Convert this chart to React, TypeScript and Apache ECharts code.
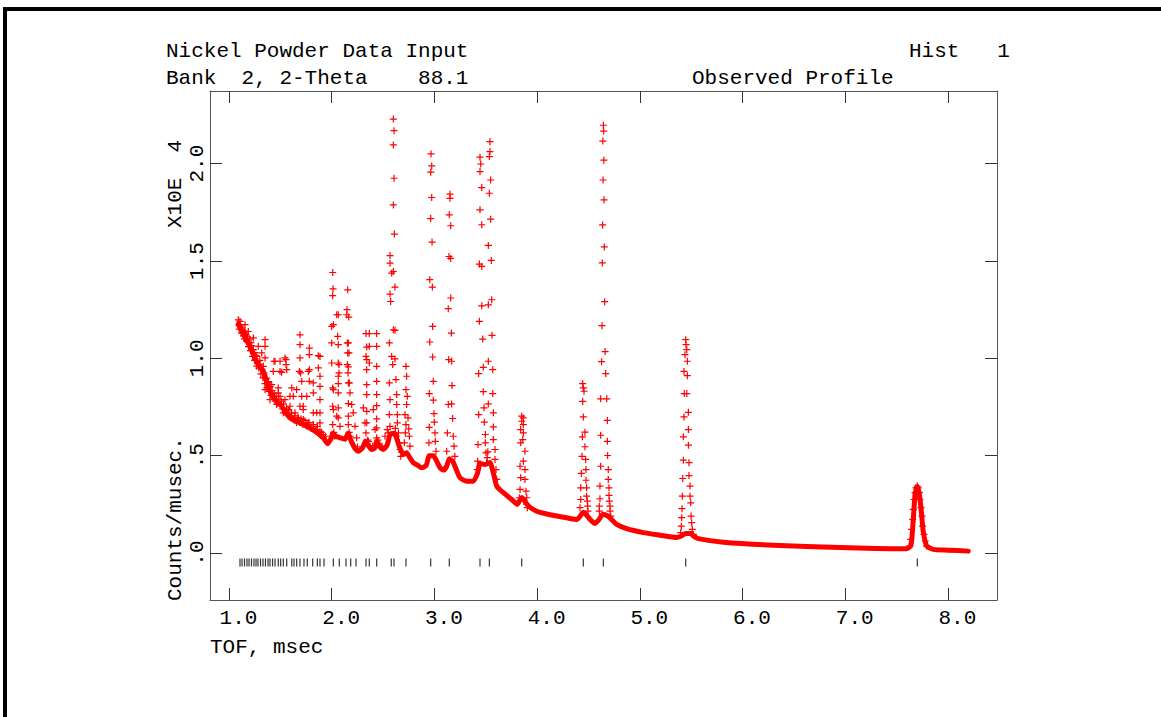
import React, { useEffect, useRef } from "react";
import * as echarts from "echarts";

// ---------- axis ticks ----------
const xTickValues = [1, 2, 3, 4, 5, 6, 7, 8];
const yTickValues = [0, 0.5, 1, 1.5, 2];
const yTickLabels = [".0", ".5", "1.0", "1.5", "2.0"];

// ---------- reflection positions (TOF, msec) ----------
const reflectionTof = [
  1.107, 1.127, 1.151, 1.175, 1.195, 1.219, 1.243, 1.263, 1.282, 1.307, 1.331, 1.355, 1.38, 1.399, 1.424,
  1.448, 1.48, 1.503, 1.529, 1.562, 1.611, 1.633, 1.659, 1.691, 1.73, 1.762, 1.815, 1.86, 1.886, 1.925,
  2.016, 2.074, 2.139, 2.185, 2.237, 2.334, 2.366, 2.438, 2.58, 2.607, 2.723, 2.964, 3.145, 3.444, 3.535,
  3.85, 4.45, 4.645, 5.447, 7.702,
];
const reflectionLevel = -0.048;

// ---------- observed profile: dense lower trace (TOF, counts x1e4) ----------
const bandTof = [
  1.091, 1.139, 1.204, 1.27, 1.334, 1.383, 1.448, 1.513, 1.594, 1.659, 1.757, 1.837, 1.918, 1.961, 1.995,
  2.01, 2.04, 2.097, 2.13, 2.16, 2.19, 2.23, 2.259, 2.3, 2.33, 2.36, 2.389, 2.42, 2.44, 2.47, 2.502, 2.54,
  2.57, 2.61, 2.66, 2.697, 2.73, 2.76, 2.795, 2.84, 2.876, 2.92, 2.95, 2.99, 3.022, 3.055, 3.087, 3.12,
  3.145, 3.18, 3.2, 3.249, 3.314, 3.379, 3.42, 3.444, 3.493, 3.54, 3.574, 3.607, 3.671, 3.753, 3.807, 3.83,
  3.85, 3.89, 3.915, 3.996, 4.1, 4.191, 4.3, 4.386, 4.42, 4.45, 4.49, 4.515, 4.564, 4.606, 4.64, 4.69,
  4.726, 4.775, 4.872, 5.034, 5.197, 5.359, 5.4, 5.447, 5.5, 5.521, 5.57, 5.813, 6.3, 6.949, 7.3, 7.599,
  7.64, 7.66, 7.68, 7.7, 7.72, 7.74, 7.76, 7.794, 7.858, 8.0, 8.199,
];
const bandCounts = [
  1.175, 1.125, 1.06, 0.98, 0.933, 0.85, 0.79, 0.754, 0.694, 0.677, 0.651, 0.626, 0.592, 0.562, 0.59,
  0.615, 0.6, 0.59, 0.585, 0.615, 0.575, 0.535, 0.523, 0.54, 0.575, 0.55, 0.532, 0.54, 0.575, 0.545, 0.532, 0.555,
  0.61, 0.615, 0.545, 0.506, 0.515, 0.49, 0.464, 0.45, 0.438, 0.45, 0.5, 0.5, 0.472, 0.438, 0.426, 0.446,
  0.485, 0.47, 0.446, 0.387, 0.369, 0.369, 0.41, 0.46, 0.455, 0.465, 0.412, 0.344, 0.31, 0.275, 0.25, 0.27,
  0.285, 0.26, 0.241, 0.215, 0.2, 0.19, 0.18, 0.172, 0.19, 0.21, 0.19, 0.173, 0.152, 0.175, 0.2, 0.19,
  0.172, 0.147, 0.125, 0.105, 0.092, 0.08, 0.086, 0.1, 0.1, 0.088, 0.074, 0.056, 0.04, 0.028, 0.024, 0.022,
  0.04, 0.15, 0.3, 0.34, 0.31, 0.22, 0.11, 0.036, 0.019, 0.015, 0.01,
];

// ---------- observed profile: individual points ----------
const obsLowDense: [number, number][] = [
  [1.095, 1.17], [1.1, 1.15], [1.11, 1.17], [1.12, 1.13], [1.13, 1.15], [1.14, 1.115], [1.15, 1.1],
  [1.16, 1.13], [1.17, 1.09], [1.18, 1.11], [1.19, 1.06], [1.2, 1.08], [1.21, 1.04], [1.22, 1.065],
  [1.23, 1.01], [1.24, 1.03], [1.25, 0.99], [1.26, 1.015], [1.27, 0.96], [1.28, 0.985], [1.29, 0.95],
  [1.3, 0.97], [1.31, 0.92], [1.32, 0.945], [1.33, 0.9], [1.34, 0.925], [1.35, 0.87], [1.36, 0.895],
  [1.37, 0.85], [1.38, 0.875], [1.39, 0.83], [1.4, 0.855], [1.41, 0.81], [1.42, 0.835], [1.43, 0.8],
  [1.44, 0.82], [1.45, 0.78], [1.46, 0.805], [1.47, 0.77], [1.48, 0.79], [1.5, 0.76], [1.51, 0.78],
  [1.52, 0.74], [1.53, 0.765], [1.55, 0.72], [1.56, 0.745], [1.57, 0.71], [1.58, 0.73], [1.6, 0.7],
  [1.61, 0.72], [1.62, 0.69], [1.64, 0.705], [1.65, 0.68], [1.67, 0.695], [1.69, 0.67], [1.7, 0.69],
  [1.72, 0.66], [1.74, 0.68], [1.76, 0.66], [1.78, 0.67], [1.8, 0.64], [1.82, 0.66], [1.84, 0.63],
  [1.86, 0.65], [1.88, 0.61], [1.9, 0.62], [1.92, 0.59], [1.94, 0.6],
];

const obsLowTof: [number, number][] = [
  [1.091, 1.198], [1.107, 1.19], [1.12, 1.16], [1.156, 1.173], [1.15, 1.14], [1.17, 1.12], [1.188, 1.138],
  [1.2, 1.1], [1.215, 1.08], [1.237, 1.105], [1.237, 1.045], [1.25, 1.03], [1.27, 1.01], [1.285, 1.062],
  [1.3, 0.99], [1.318, 1.028], [1.334, 0.959], [1.351, 1.096], [1.351, 1.062], [1.351, 1.002], [1.351, 0.839],
  [1.367, 0.899], [1.383, 0.88], [1.399, 0.788], [1.416, 0.865], [1.431, 0.933], [1.438, 0.985], [1.448, 0.985],
  [1.464, 0.763], [1.48, 0.848], [1.48, 0.823], [1.497, 0.985], [1.497, 0.933], [1.497, 0.805], [1.513, 0.928],
  [1.529, 0.72], [1.545, 1.002], [1.545, 0.788], [1.555, 0.968], [1.555, 0.993], [1.562, 0.942], [1.577, 0.737],
  [1.594, 0.805], [1.594, 0.754], [1.594, 0.703], [1.611, 0.848], [1.626, 0.805], [1.643, 0.72], [1.659, 0.839],
  [1.659, 0.669], [1.675, 0.694], [1.685, 0.933], [1.691, 1.121], [1.691, 1.07], [1.691, 1.002], [1.691, 0.754],
  [1.698, 0.925], [1.708, 0.882], [1.708, 0.805], [1.723, 0.754], [1.723, 0.737], [1.723, 0.686], [1.757, 0.805],
  [1.757, 0.651], [1.772, 0.933], [1.772, 0.669], [1.782, 1.053], [1.782, 1.019], [1.782, 0.942], [1.782, 0.882],
  [1.821, 0.874], [1.821, 0.823], [1.821, 0.72], [1.821, 0.66], [1.854, 0.72], [1.854, 0.634], [1.87, 1.014],
  [1.87, 0.951], [1.886, 1.01], [1.886, 0.908], [1.886, 0.856], [1.886, 0.788], [1.886, 0.72], [1.886, 0.669],
  [1.886, 0.626], [1.918, 0.609],
];

const obsMidTof: [number, number][] = [
  [2.01, 1.441], [2.013, 1.357], [2.009, 1.322], [2.0, 1.164], [2.016, 1.173], [2.0, 1.079], [2.0, 0.976],
  [2.016, 0.839], [2.01, 0.848], [2.01, 0.754], [2.016, 0.737], [2.01, 0.66], [2.049, 0.703], [2.081, 0.651],
  [2.049, 1.224], [2.064, 1.224], [2.058, 1.113], [2.064, 1.07], [2.064, 0.976], [2.071, 0.968], [2.071, 0.925],
  [2.064, 0.908], [2.064, 0.87], [2.064, 0.823], [2.064, 0.746], [2.064, 0.694], [2.146, 1.224], [2.156, 1.352],
  [2.149, 1.25], [2.166, 1.212], [2.152, 1.079], [2.162, 1.079], [2.168, 1.028], [2.156, 1.028], [2.152, 0.968],
  [2.162, 0.956], [2.159, 0.925], [2.162, 0.874], [2.172, 0.874], [2.178, 0.823], [2.162, 0.768], [2.195, 0.763],
  [2.162, 0.703], [2.21, 0.72], [2.162, 0.66], [2.227, 0.651], [2.243, 0.592], [2.334, 1.127], [2.366, 1.127],
  [2.341, 1.058], [2.366, 1.062], [2.334, 1.01], [2.341, 0.993], [2.366, 0.976], [2.341, 0.942], [2.341, 0.865],
  [2.341, 0.814], [2.308, 0.746], [2.341, 0.728], [2.324, 0.669], [2.341, 0.669], [2.334, 0.617], [2.357, 0.574],
  [2.373, 0.549], [2.438, 1.127], [2.438, 1.062], [2.438, 0.959], [2.438, 0.882], [2.438, 0.814], [2.438, 0.757],
  [2.405, 0.737], [2.438, 0.689], [2.438, 0.643], [2.422, 0.634], [2.438, 0.592], [2.454, 0.557], [2.519, 0.6],
  [2.541, 0.634], [2.02, 0.62], [2.03, 0.6], [2.17, 0.62], [2.18, 0.6], [2.25, 0.545], [2.35, 0.58],
  [2.45, 0.58], [2.49, 0.55], [2.4, 0.55],
];

const obsPeak260: [number, number][] = [
  [2.6, 2.229], [2.607, 2.169], [2.6, 2.096], [2.607, 1.925], [2.6, 1.788], [2.61, 1.638], [2.568, 1.528],
  [2.568, 1.489], [2.584, 1.438], [2.6, 1.446], [2.616, 1.366], [2.568, 1.33], [2.574, 1.292], [2.6, 1.147],
  [2.616, 1.144], [2.561, 1.079], [2.584, 1.01], [2.616, 0.997], [2.594, 0.968], [2.561, 0.874], [2.626, 0.891],
  [2.633, 0.814], [2.633, 0.763], [2.561, 0.711], [2.639, 0.711], [2.639, 0.669], [2.551, 0.617], [2.649, 0.617],
  [2.658, 0.566], [2.665, 0.532], [2.672, 0.497], [2.568, 0.788], [2.568, 0.651], [2.62, 0.64], [2.63, 0.6],
  [2.68, 0.52],
];

const obsPeak272: [number, number][] = [
  [2.723, 0.959], [2.73, 0.908], [2.723, 0.839], [2.736, 0.805], [2.73, 0.763], [2.714, 0.711], [2.743, 0.694],
  [2.723, 0.66], [2.75, 0.638], [2.717, 0.617], [2.756, 0.6], [2.707, 0.566], [2.762, 0.549],
];

const obsPeak296: [number, number][] = [
  [2.967, 2.05], [2.974, 1.988], [2.964, 1.956], [2.974, 1.826], [2.964, 1.718], [2.977, 1.597], [2.955, 1.404],
  [2.98, 1.366], [2.983, 1.164], [2.955, 1.084], [2.983, 1.007], [2.989, 0.882], [2.95, 0.819], [2.989, 0.785],
  [2.996, 0.716], [2.95, 0.646], [2.999, 0.672], [3.006, 0.617], [2.947, 0.566], [3.009, 0.574], [3.016, 0.523],
];

const obsPeak315: [number, number][] = [
  [3.152, 1.843], [3.152, 1.822], [3.145, 1.737], [3.159, 1.681], [3.142, 1.523], [3.159, 1.513], [3.159, 1.31],
  [3.135, 1.255], [3.165, 1.13], [3.139, 0.993], [3.168, 0.985], [3.171, 0.86], [3.135, 0.763], [3.168, 0.766],
  [3.178, 0.691], [3.126, 0.617], [3.184, 0.6], [3.191, 0.549], [3.12, 0.523], [3.199, 0.497],
];

const obsPeak344: [number, number][] = [
  [3.444, 2.033], [3.451, 1.998], [3.444, 1.959], [3.461, 1.877], [3.444, 1.763], [3.461, 1.686], [3.438, 1.484],
  [3.461, 1.472], [3.461, 1.27], [3.438, 1.19], [3.47, 1.099], [3.476, 0.954], [3.431, 0.922], [3.476, 0.829],
  [3.483, 0.746], [3.431, 0.711], [3.486, 0.672], [3.496, 0.609], [3.425, 0.557], [3.496, 0.566], [3.502, 0.515],
  [3.421, 0.472], [3.509, 0.464], [3.418, 0.429],
];

const obsPeak354: [number, number][] = [
  [3.541, 2.113], [3.541, 2.062], [3.535, 2.036], [3.548, 1.916], [3.535, 1.848], [3.548, 1.715], [3.525, 1.58],
  [3.554, 1.503], [3.558, 1.301], [3.525, 1.275], [3.561, 1.118], [3.525, 0.985], [3.568, 0.942], [3.568, 0.819],
  [3.525, 0.766], [3.574, 0.72], [3.574, 0.648], [3.574, 0.583], [3.59, 0.532], [3.59, 0.481], [3.6, 0.429],
  [3.607, 0.378], [3.52, 0.52], [3.515, 0.49],
];

const obsPeak385: [number, number][] = [
  [3.85, 0.703], [3.866, 0.694], [3.85, 0.677], [3.866, 0.66], [3.84, 0.634], [3.866, 0.617], [3.86, 0.583],
  [3.84, 0.566], [3.882, 0.523], [3.866, 0.472], [3.834, 0.446], [3.882, 0.429], [3.84, 0.387], [3.882, 0.378],
  [3.834, 0.327], [3.892, 0.318], [3.827, 0.284], [3.899, 0.284], [3.899, 0.25], [3.905, 0.233],
];

const obsPeak445: [number, number][] = [
  [4.444, 0.87], [4.45, 0.848], [4.457, 0.831], [4.444, 0.779], [4.45, 0.699], [4.466, 0.621], [4.441, 0.597],
  [4.466, 0.546], [4.437, 0.497], [4.473, 0.481], [4.476, 0.429], [4.431, 0.409], [4.476, 0.374], [4.425, 0.335],
  [4.482, 0.335], [4.482, 0.292], [4.425, 0.275], [4.489, 0.267], [4.418, 0.233], [4.492, 0.241], [4.495, 0.215],
];

const obsPeak464: [number, number][] = [
  [4.645, 2.197], [4.648, 2.167], [4.64, 2.116], [4.65, 2.018], [4.642, 1.916], [4.652, 1.814], [4.638, 1.685],
  [4.654, 1.572], [4.635, 1.49], [4.658, 1.291], [4.632, 1.168], [4.662, 1.035], [4.628, 0.983], [4.668, 0.922],
  [4.619, 0.792], [4.678, 0.792], [4.684, 0.681], [4.619, 0.605], [4.684, 0.574], [4.687, 0.501], [4.619, 0.446],
  [4.693, 0.429], [4.693, 0.378], [4.612, 0.344], [4.7, 0.335], [4.7, 0.296], [4.612, 0.279], [4.703, 0.267],
  [4.606, 0.241], [4.71, 0.241], [4.606, 0.215], [4.71, 0.215], [4.717, 0.19],
];

const obsPeak545: [number, number][] = [
  [5.447, 1.096], [5.45, 1.07], [5.457, 1.045], [5.44, 1.019], [5.463, 0.985], [5.43, 0.933], [5.463, 0.911],
  [5.433, 0.819], [5.457, 0.819], [5.473, 0.723], [5.43, 0.699], [5.473, 0.634], [5.424, 0.597], [5.473, 0.554],
  [5.424, 0.477], [5.479, 0.464], [5.479, 0.398], [5.418, 0.383], [5.489, 0.344], [5.414, 0.292], [5.489, 0.292],
  [5.411, 0.228], [5.496, 0.258], [5.499, 0.19], [5.408, 0.182], [5.404, 0.138], [5.505, 0.156], [5.511, 0.122],
  [5.398, 0.105], [5.521, 0.096],
];

const obsPeak770: [number, number][] = [
  [7.624, 0.036], [7.638, 0.07], [7.647, 0.122], [7.657, 0.173], [7.663, 0.224], [7.67, 0.275], [7.68, 0.31],
  [7.689, 0.335], [7.702, 0.344], [7.712, 0.335], [7.722, 0.31], [7.728, 0.275], [7.738, 0.233], [7.748, 0.19],
  [7.754, 0.138], [7.767, 0.096], [7.78, 0.062], [7.794, 0.036],
];

// ---------- texts ----------
const titleLeft1 = "Nickel Powder Data Input";
const titleLeft2 = "Bank  2, 2-Theta    88.1";
const titleRight1 = "Hist   1";
const titleRight2 = "Observed Profile";
const xAxisTitle = "TOF, msec";
const yAxisTitle = "Counts/musec.";
const yScaleTitle = "X10E  4";

const FONT = "'Liberation Mono', 'DejaVu Sans Mono', monospace";
const FS = 21;
const RED = "#ff0000";
const PLUS = "path://M2.9,0H4.1V2.9H7V4.1H4.1V7H2.9V4.1H0V2.9H2.9Z";
const X_MIN = 0.815;
const X_MAX = 8.478;
const Y_MIN = -0.241;
const Y_MAX = 2.373;

export default function App() {
  const ref = useRef<HTMLDivElement>(null);

  useEffect(() => {
    if (!ref.current) return;
    const chart = echarts.init(ref.current, undefined, { renderer: "svg" });

    const lineStyle = { color: "#555", width: 1 };
    const tickStyle = { color: "#333", width: 1 };

    const pointGroups = [
      obsLowDense, obsLowTof, obsMidTof, obsPeak260, obsPeak272, obsPeak296, obsPeak315, obsPeak344,
      obsPeak354, obsPeak385, obsPeak445, obsPeak464, obsPeak545, obsPeak770,
    ];

    const scatterSeries = pointGroups.map((g, i) => ({
      type: "scatter",
      name: "obs" + i,
      data: g,
      symbol: PLUS,
      symbolSize: 7,
      itemStyle: { color: RED, opacity: 1 },
      silent: true,
      z: 3,
    }));

    const textStyle = (text: string) => ({
      text,
      fontFamily: FONT,
      fontSize: FS,
      fill: "#000",
      textAlign: "left",
      textVerticalAlign: "middle",
    });

    const option: any = {
      animation: false,
      backgroundColor: "#fff",
      grid: { left: 210, top: 91, width: 787, height: 509, containLabel: false },
      xAxis: [
        {
          type: "value",
          position: "bottom",
          min: X_MIN,
          max: X_MAX,
          axisLine: { show: true, onZero: false, lineStyle },
          axisTick: { show: true, inside: true, length: 12, customValues: xTickValues, lineStyle: tickStyle },
          axisLabel: {
            show: true,
            customValues: xTickValues,
            formatter: (v: number) => v.toFixed(1),
            fontFamily: FONT,
            fontSize: FS,
            color: "#000",
            margin: 8,
            padding: [0, 0, 0, 19],
          },
          splitLine: { show: false },
        },
        {
          type: "value",
          position: "top",
          min: X_MIN,
          max: X_MAX,
          axisLine: { show: true, onZero: false, lineStyle },
          axisTick: { show: true, inside: true, length: 12, customValues: xTickValues, lineStyle: tickStyle },
          axisLabel: { show: false },
          splitLine: { show: false },
        },
      ],
      yAxis: [
        {
          type: "value",
          position: "left",
          min: Y_MIN,
          max: Y_MAX,
          axisLine: { show: true, onZero: false, lineStyle },
          axisTick: { show: true, inside: true, length: 12, customValues: yTickValues, lineStyle: tickStyle },
          axisLabel: {
            show: true,
            customValues: yTickValues,
            rotate: 90,
            formatter: (v: number) => {
              const idx = yTickValues.findIndex((t) => Math.abs(t - v) < 1e-6);
              return idx >= 0 ? yTickLabels[idx] : "";
            },
            fontFamily: FONT,
            fontSize: FS,
            color: "#000",
            margin: 2,
          },
          splitLine: { show: false },
        },
        {
          type: "value",
          position: "right",
          min: Y_MIN,
          max: Y_MAX,
          axisLine: { show: true, onZero: false, lineStyle },
          axisTick: { show: true, inside: true, length: 12, customValues: yTickValues, lineStyle: tickStyle },
          axisLabel: { show: false },
          splitLine: { show: false },
        },
      ],
      series: [
        {
          type: "line",
          name: "profile",
          data: bandTof.map((t, i) => [t, bandCounts[i]]),
          showSymbol: false,
          symbol: "none",
          smooth: 0.2,
          lineStyle: { color: RED, width: 5, join: "round", cap: "round" },
          silent: true,
          z: 2,
        },
        ...scatterSeries,
        {
          type: "scatter",
          name: "reflections",
          data: reflectionTof.map((t) => [t, reflectionLevel]),
          symbol: "rect",
          symbolSize: [1.2, 8],
          itemStyle: { color: "#000" },
          silent: true,
          z: 4,
        },
      ],
      graphic: [
        {
          type: "rect",
          shape: { x: 5, y: 9, width: 1300, height: 900 },
          style: { fill: "none", stroke: "#000", lineWidth: 4 },
          silent: true,
        },
        { type: "text", x: 166, y: 51, style: textStyle(titleLeft1) },
        { type: "text", x: 166, y: 78, style: textStyle(titleLeft2) },
        { type: "text", x: 909, y: 51, style: textStyle(titleRight1) },
        { type: "text", x: 692, y: 78, style: textStyle(titleRight2) },
        { type: "text", x: 210, y: 647, style: textStyle(xAxisTitle) },
        { type: "text", x: 175, y: 601, rotation: Math.PI / 2, style: textStyle(yAxisTitle) },
        { type: "text", x: 175, y: 228, rotation: Math.PI / 2, style: textStyle(yScaleTitle) },
      ],
    };

    chart.setOption(option);
    return () => chart.dispose();
  }, []);

  return (
    <div
      ref={ref}
      style={{ position: "absolute", left: 0, top: 0, width: 1161, height: 717, background: "#fff" }}
    />
  );
}
